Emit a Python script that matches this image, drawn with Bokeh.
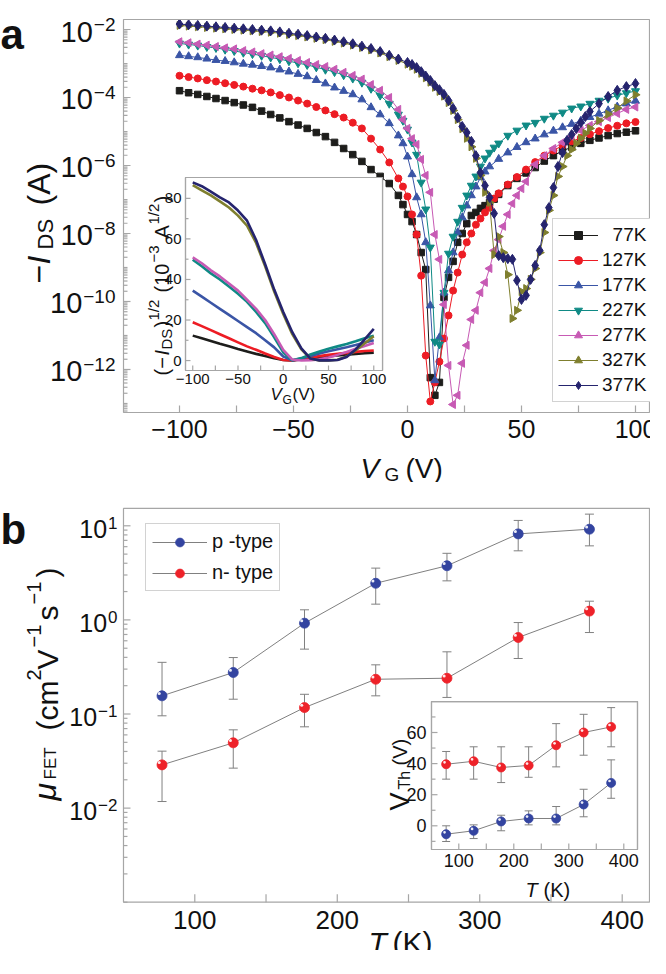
import numpy as np
from bokeh.plotting import figure
from bokeh.models import Range1d, LogScale, Label, Legend, LegendItem, GridBox
from bokeh.core.properties import value
from bokeh.embed import file_html
from bokeh.resources import INLINE

# ---------------- panel (a): transfer curves, log10(-I_DS / A) ----------------
vg_77 = [-100, -96, -92, -88, -84, -80, -76, -72, -68, -64, -60, -56, -52, -48, -44, -40, -36, -32, -28, -24, -20, -16, -12, -8, -4,
         -2, 0, 2, 4, 6, 8, 10, 12, 14, 16, 18, 20, 22, 24, 26, 28, 30, 32, 34, 36, 38,
         40, 44, 48, 52, 56, 60, 64, 68, 72, 76, 80, 84, 88, 92, 96, 100]
lg_77 = [-3.80, -3.86, -3.91, -3.97, -4.03, -4.09, -4.15, -4.22, -4.29, -4.40, -4.50, -4.60, -4.71, -4.81, -4.91, -5.03, -5.15, -5.32, -5.50, -5.68, -5.88, -6.12, -6.32, -6.53, -6.88,
         -7.15, -7.44, -7.65, -8.03, -8.56, -9.06, -12.24, -12.76, -12.38, -9.88, -9.29, -8.82, -8.26, -8.00, -7.71, -7.47, -7.38, -7.26, -7.18, -7.09, -6.99,
         -6.85, -6.59, -6.38, -6.22, -6.06, -5.87, -5.71, -5.57, -5.46, -5.35, -5.26, -5.19, -5.12, -5.06, -5.02, -4.98]

vg_127 = [-100, -96, -92, -88, -84, -80, -76, -72, -68, -64, -60, -56, -52, -48, -44, -40, -36, -32, -28, -24, -20, -16, -12, -8, -4,
          -2, 0, 2, 4, 6, 8, 10, 12, 14, 16, 18, 20, 22, 24, 26, 28, 30, 32, 34, 36, 38,
          40, 44, 48, 52, 56, 60, 64, 68, 72, 76, 80, 84, 88, 92, 96, 100]
lg_127 = [-3.36, -3.40, -3.44, -3.49, -3.53, -3.58, -3.63, -3.68, -3.74, -3.79, -3.85, -3.93, -4.00, -4.09, -4.18, -4.28, -4.38, -4.49, -4.59, -4.74, -4.91, -5.21, -5.53, -5.91, -6.38,
          -6.62, -6.91, -7.44, -8.03, -9.24, -11.59, -12.94, -12.38, -11.77, -11.09, -10.41, -9.68, -9.15, -8.62, -8.26, -8.00, -7.74, -7.56, -7.38, -7.24, -6.97,
          -6.82, -6.56, -6.34, -6.12, -5.90, -5.71, -5.56, -5.41, -5.29, -5.19, -5.08, -4.99, -4.90, -4.83, -4.76, -4.72]

vg_177 = [-100, -96, -92, -88, -84, -80, -76, -72, -68, -64, -60, -56, -52, -48, -44, -40, -36, -32, -28, -24, -20, -16, -12, -8, -4,
          -2, 0, 2, 4, 6, 8, 10, 12, 14, 16, 18, 20, 22, 24, 26, 28, 30, 32, 34,
          36, 40, 44, 48, 52, 56, 60, 64, 68, 72, 76, 80, 84, 88, 92, 96, 100]
lg_177 = [-2.76, -2.79, -2.82, -2.86, -2.90, -2.93, -2.97, -3.01, -3.04, -3.08, -3.12, -3.18, -3.24, -3.31, -3.38, -3.49, -3.59, -3.71, -3.81, -3.91, -4.06, -4.29, -4.50, -4.76, -5.12,
          -5.35, -5.74, -6.26, -6.94, -7.44, -8.26, -10.12, -12.32, -11.06, -9.74, -9.09, -8.56, -7.97, -7.53, -7.18, -6.88, -6.62, -6.35, -6.18,
          -6.03, -5.81, -5.62, -5.46, -5.32, -5.21, -5.09, -4.98, -4.88, -4.78, -4.69, -4.58, -4.48, -4.38, -4.27, -4.18, -4.10]

vg_227 = [-100, -96, -92, -88, -84, -80, -76, -72, -68, -64, -60, -56, -52, -48, -44, -40, -36, -32, -28, -24, -20, -16, -12, -8, -4,
          -2, 0, 2, 4, 6, 8, 10, 12, 14, 16, 18, 20, 22, 24, 26, 28, 30, 32, 34, 36, 38, 40,
          44, 48, 52, 56, 60, 64, 68, 72, 76, 80, 84, 88, 92, 96, 100]
lg_227 = [-2.41, -2.44, -2.47, -2.51, -2.54, -2.59, -2.63, -2.68, -2.72, -2.77, -2.82, -2.87, -2.93, -2.99, -3.04, -3.11, -3.18, -3.25, -3.34, -3.44, -3.56, -3.74, -3.94, -4.18, -4.50,
          -4.68, -4.94, -5.32, -5.68, -6.50, -7.29, -8.41, -11.18, -11.26, -9.74, -8.59, -8.09, -7.65, -7.24, -6.88, -6.59, -6.32, -6.03, -5.79, -5.62, -5.47, -5.35,
          -5.12, -4.97, -4.82, -4.74, -4.62, -4.53, -4.44, -4.32, -4.26, -4.18, -4.09, -4.03, -3.94, -3.87, -3.81]

vg_277 = [-100, -96, -92, -88, -84, -80, -76, -72, -68, -64, -60, -56, -52, -48, -44, -40, -36, -32, -28, -24, -20, -16, -12, -8, -4,
          -2, 0, 2, 4, 6, 8, 10, 12, 14, 16, 18, 20, 22, 24, 26, 28, 30, 32, 34, 36, 38, 40, 42, 44, 46, 48, 50, 52,
          56, 60, 64, 68, 72, 76, 80, 84, 88, 92, 96, 100]
lg_277 = [-2.36, -2.39, -2.43, -2.46, -2.50, -2.54, -2.57, -2.62, -2.66, -2.71, -2.75, -2.80, -2.85, -2.91, -2.97, -3.03, -3.09, -3.17, -3.26, -3.35, -3.46, -3.62, -3.79, -4.00, -4.35,
          -4.65, -4.91, -5.21, -5.38, -5.82, -6.29, -6.79, -8.03, -8.76, -10.09, -11.88, -13.03, -12.76, -11.82, -11.29, -10.53, -10.26, -9.74, -9.44, -9.03, -8.50, -8.18, -7.79, -7.44, -7.12, -6.88, -6.68, -6.47,
          -5.97, -5.71, -5.50, -5.32, -5.15, -4.97, -4.82, -4.71, -4.59, -4.47, -4.35, -4.28]

vg_327 = [-100, -96, -92, -88, -84, -80, -76, -72, -68, -64, -60, -56, -52, -48, -44, -40, -36, -32, -28, -24, -20, -16, -12, -8, -4,
          0, 2, 4, 6, 8, 10, 12, 14, 16, 18, 20, 22, 24, 26, 28, 30, 32, 34, 36, 38, 40, 42, 44, 46, 48, 50, 52, 54, 56, 58,
          60, 62, 64, 66, 68, 70, 72, 74, 76, 78, 80, 84, 88, 92, 96, 100]
lg_327 = [-1.88, -1.90, -1.92, -1.94, -1.96, -1.98, -2.00, -2.02, -2.04, -2.06, -2.08, -2.11, -2.15, -2.18, -2.22, -2.26, -2.30, -2.35, -2.40, -2.46, -2.53, -2.60, -2.69, -2.80, -2.91,
          -3.02, -3.08, -3.17, -3.29, -3.42, -3.55, -3.70, -3.82, -3.96, -4.15, -4.38, -4.65, -4.92, -5.20, -5.45, -5.79, -6.29, -6.79, -7.09, -8.62, -8.09, -8.56, -9.21, -10.50, -10.26, -9.71, -9.62, -9.35, -9.03, -8.56,
          -7.97, -7.32, -6.88, -6.32, -6.03, -5.71, -5.53, -5.35, -5.20, -5.05, -4.91, -4.68, -4.49, -4.31, -4.10, -3.92]

vg_377 = [-100, -96, -92, -88, -84, -80, -76, -72, -68, -64, -60, -56, -52, -48, -44, -40, -36, -32, -28, -24, -20, -16, -12, -8, -4,
          0, 2, 4, 6, 8, 10, 12, 14, 16, 18, 20, 22, 24, 26, 28, 30, 32, 34, 36, 38, 40, 42, 44, 46, 48, 50, 52, 54, 56, 58,
          60, 62, 64, 66, 68, 70, 72, 74, 76, 78, 80, 84, 88, 92, 96, 100]
lg_377 = [-1.84, -1.86, -1.88, -1.90, -1.92, -1.94, -1.96, -1.98, -2.00, -2.02, -2.04, -2.07, -2.11, -2.14, -2.18, -2.22, -2.26, -2.31, -2.36, -2.42, -2.49, -2.56, -2.65, -2.76, -2.87,
          -2.97, -3.03, -3.12, -3.24, -3.37, -3.50, -3.65, -3.77, -3.91, -4.09, -4.32, -4.59, -4.85, -5.03, -5.29, -5.71, -6.21, -6.59, -6.94, -7.41, -8.65, -8.71, -8.74, -8.76, -9.38, -9.94, -9.82, -9.35, -8.94, -8.50,
          -7.74, -7.24, -6.65, -6.03, -5.62, -5.26, -5.09, -4.91, -4.74, -4.56, -4.41, -4.18, -3.97, -3.79, -3.68, -3.59]

series_labels = ["77K", "127K", "177K", "227K", "277K", "327K", "377K"]

# ---------------- inset (a): (-I_DS)^1/2 in 1e-3 A^1/2 ----------------
vg_inset = [-100, -90, -80, -70, -60, -50, -40, -30, -20, -10, 0, 10, 20, 30, 40, 50, 60, 70, 80, 90, 100]
sq_77 = [12.3, 11.0, 9.7, 8.3, 7.0, 5.7, 4.5, 3.3, 2.2, 1.1, 0.3, 0.0, 0.6, 1.1, 1.6, 2.1, 2.5, 2.9, 3.2, 3.6, 3.9]
sq_127 = [18.9, 17.0, 15.0, 13.0, 11.0, 9.0, 7.0, 5.3, 3.5, 1.8, 0.3, 0.0, 0.8, 1.5, 2.2, 2.8, 3.3, 3.8, 4.3, 4.7, 5.0]
sq_177 = [34.5, 31.5, 28.5, 25.5, 22.5, 19.5, 16.5, 13.5, 10.0, 6.5, 2.0, 0.1, 1.0, 2.3, 3.5, 4.6, 5.6, 6.6, 7.7, 8.9, 10.0]
sq_227 = [49.8, 46.5, 43.0, 40.0, 36.5, 33.0, 29.0, 24.0, 18.5, 11.5, 4.0, 0.2, 1.2, 3.0, 4.5, 5.8, 7.0, 8.2, 9.5, 11.0, 12.3]
sq_277 = [50.9, 48.0, 44.5, 41.5, 38.0, 34.5, 30.0, 25.5, 20.0, 13.0, 5.3, 0.5, 0.0, 0.2, 0.6, 1.5, 2.8, 4.2, 5.8, 7.2, 8.7]
sq_327 = [86.5, 84.0, 81.5, 78.5, 75.5, 71.5, 66.5, 58.0, 46.5, 34.0, 23.0, 13.0, 5.5, 1.0, 0.1, 0.1, 0.4, 2.0, 5.0, 8.5, 12.0]
sq_377 = [87.9, 86.0, 83.3, 80.5, 78.0, 74.0, 69.0, 59.5, 47.5, 35.0, 24.0, 14.0, 6.0, 1.0, 0.1, 0.1, 0.3, 1.8, 5.5, 10.5, 15.6]

# ---------------- panel (b): mobility vs temperature ----------------
temp_k = [77, 127, 177, 227, 277, 327, 377]
mu_p = [0.156, 0.276, 0.923, 2.45, 3.76, 8.2, 9.2]
mu_p_hi = [0.354, 0.398, 1.28, 3.55, 5.1, 11.4, 13.3]
mu_p_lo = [0.0957, 0.1436, 0.489, 1.47, 2.6, 5.42, 6.12]
mu_n = [0.0288, 0.0494, 0.117, 0.234, 0.240, 0.65, 1.24]
mu_n_hi = [0.0403, 0.0679, 0.162, 0.333, 0.458, 0.937, 1.58]
mu_n_lo = [0.01175, 0.0266, 0.0731, 0.156, 0.150, 0.389, 0.734]
# inset (b): threshold voltage
vth_p = [-5.4, -3.2, 2.8, 4.7, 4.7, 13.7, 27.6]
vth_p_hi = [0.0, 0.6, 6.8, 9.6, 12.4, 23.5, 42.4]
vth_p_lo = [-10.1, -8.2, -3.2, 0.6, 0.6, 5.8, 17.7]
vth_n = [39.6, 41.5, 37.5, 38.8, 51.8, 60.0, 63.6]
vth_n_hi = [47.8, 50.8, 50.8, 50.8, 65.7, 71.7, 76.0]
vth_n_lo = [30.0, 30.0, 27.8, 31.2, 37.9, 45.4, 50.8]
type_labels = ["p -type", "n- type"]

# ---------------- tick positions ----------------
a_xticks = [-100, -50, 0, 50, 100]
a_xminor = [-75, -25, 25, 75]
a_yexps = [-12, -10, -8, -6, -4, -2]
ia_xticks = [-100, -50, 0, 50, 100]
ia_xminor = [-75, -25, 25, 75]
ia_yticks = [0, 20, 40, 60, 80]
ia_yminor = [10, 30, 50, 70]
b_xticks = [100, 200, 300, 400]
b_xminor = [150, 250, 350]
b_yexps = [-2, -1, 0, 1]
ib_xticks = [100, 200, 300, 400]
ib_xminor = [150, 250, 350]
ib_yticks = [0, 20, 40, 60]
ib_yminor = [-10, 10, 30, 50, 70]

# ---------------- styling ----------------
FONT = "Liberation Sans"
GRAY = "#a6a6a6"
LGRAY = "#808080"
TXT = "#111111"
colors = ["#1d1d1b", "#ed1c24", "#3a55a6", "#0f8a85", "#c75ab4", "#7f7f2e", "#25246e"]
marker_styles = [("square", 0.0, 6.5), ("circle", 0.0, 7), ("triangle", 0.0, 8),
                 ("inverted_triangle", 0.0, 8), ("triangle", np.pi / 2, 8),
                 ("triangle", -np.pi / 2, 8), ("diamond", 0.0, 10)]
BLUE_BALL = "#3344a0"
RED_BALL = "#ee2229"
MINUS = "\u2212"
R = np.pi / 2
W = 658
TOP = 8            # page y of the first canvas row
HA, HB = 482, 468  # canvas heights (page 8..490 and 490..958)


def make_panel(height, y0):
    p = figure(width=W, height=height, output_backend="svg", toolbar_location=None, title=None,
               x_range=Range1d(0, W), y_range=Range1d(y0 + height, y0),
               x_axis_location=None, y_axis_location=None,
               min_border=0, min_border_left=0, min_border_right=0, min_border_top=0, min_border_bottom=0)
    p.outline_line_color = None
    p.background_fill_color = "white"
    p.border_fill_color = "white"
    p.xgrid.visible = False
    p.ygrid.visible = False
    return p


def per_px(rng, npx, log=False):
    if log:
        return (np.log10(rng.end) - np.log10(rng.start)) / npx
    return (rng.end - rng.start) / npx


def shift(v, px, step, log):
    return v * 10 ** (px * step) if log else v + px * step


def box(p, xr, yr, fr, fill):
    x0, x1, y0, y1 = fr
    p.quad(left=[x0], right=[x1], bottom=[y0], top=[y1], fill_color=fill, line_color=GRAY,
           line_width=1.2, x_range_name=xr, y_range_name=yr)


def xticks(p, xr, yr, vals, ybase, length, ystep, ylog):
    n = len(vals)
    y1 = shift(ybase, length, ystep, ylog)
    p.segment(x0=vals, y0=[ybase] * n, x1=vals, y1=[y1] * n, line_color=GRAY, line_width=1.2,
              x_range_name=xr, y_range_name=yr)


def yticks(p, xr, yr, vals, xbase, length, xstep):
    n = len(vals)
    p.segment(x0=[xbase] * n, y0=vals, x1=[xbase + length * xstep] * n, y1=vals, line_color=GRAY,
              line_width=1.2, x_range_name=xr, y_range_name=yr)


def txt(p, xr, yr, xs, ys, texts, size, align, baseline, dx=0, dy=0):
    p.text(x=xs, y=ys, text=texts, x_offset=dx, y_offset=dy, text_align=align, text_baseline=baseline,
           text_font=value(FONT), text_font_size=value(f"{size}px"), text_color=TXT,
           x_range_name=xr, y_range_name=yr)


def num_label(v):
    return (MINUS + str(-v)) if v < 0 else str(v)


def ylog_labels(p, xr, yr, exps, xbase, bsize, esize, standoff, bdy, edy):
    n = len(exps)
    vals = [10.0 ** e for e in exps]
    etxt = [num_label(e) for e in exps]
    ew = [sum(0.584 if ch == MINUS else 0.556 for ch in t) * esize for t in etxt]
    txt(p, xr, yr, [xbase] * n, vals, etxt, esize, "right", "middle", dx=-standoff, dy=edy)
    txt(p, xr, yr, [xbase] * n, vals, ["10"] * n, bsize, "right", "middle",
        dx=[-standoff - w - 1 for w in ew], dy=bdy)


def add_text(p, text, x, y, size, style="normal", angle=0.0):
    p.add_layout(Label(x=x, y=y, text=text, text_font=FONT, text_font_size=f"{size}px",
                       text_font_style=style, text_color=TXT, angle=angle,
                       text_align="left", text_baseline="alphabetic"))


# ======================= panel (a) =======================
pa = make_panel(HA, TOP)
pa.extra_x_ranges = {"ax": Range1d(-182.02, 106.58), "ix": Range1d(-321.24, 405.76)}
pa.extra_y_ranges = {"ay": Range1d(10 ** -15.324, 10 ** -1.147), "iy": Range1d(-60.15, 177.61)}
pa.extra_y_scales = {"ay": LogScale()}
ax_s = per_px(pa.extra_x_ranges["ax"], W)
ay_s = per_px(pa.extra_y_ranges["ay"], HA, log=True)
ix_s = per_px(pa.extra_x_ranges["ix"], W)
iy_s = per_px(pa.extra_y_ranges["iy"], HA)
FA = (-124.56, 106.14, 10 ** -13.265, 10 ** -1.706)
FIA = (-108.0, 109.7, -4.9, 90.3)

curves_a = [(vg_77, lg_77), (vg_127, lg_127), (vg_177, lg_177), (vg_227, lg_227),
            (vg_277, lg_277), (vg_327, lg_327), (vg_377, lg_377)]
legend_items = []
for (vg, lg), lab, col, (mk, ang, sz) in zip(curves_a, series_labels, colors, marker_styles):
    ids = [10.0 ** v for v in lg]
    r1 = pa.line(vg, ids, line_color=col, line_width=1, x_range_name="ax", y_range_name="ay")
    r2 = pa.scatter(vg, ids, marker=mk, angle=ang, size=sz, fill_color=col, line_color=col,
                    x_range_name="ax", y_range_name="ay")
    pad = "\u2007" if len(lab) == 3 else ""
    legend_items.append(LegendItem(label=pad + lab, renderers=[r1, r2]))

box(pa, "ax", "ay", FA, None)
xticks(pa, "ax", "ay", a_xticks + a_xminor, FA[2], 7, ay_s, True)
txt(pa, "ax", "ay", a_xticks, [FA[2]] * len(a_xticks), [num_label(v) for v in a_xticks], 25,
    "center", "top", dy=8)
a_ymajor = [10.0 ** e for e in a_yexps]
a_yminor = [k * 10.0 ** e for e in range(-14, -1) for k in range(1, 10)
            if FA[2] <= k * 10.0 ** e <= FA[3] and not (k == 1 and e in a_yexps)]
yticks(pa, "ax", "ay", a_ymajor, FA[0], 7, ax_s)
yticks(pa, "ax", "ay", a_yminor, FA[0], 4, ax_s)
ylog_labels(pa, "ax", "ay", a_yexps, FA[0], 29, 19, 8, 2, -5)

leg_a = Legend(items=legend_items, location=(560, 490 - 410), label_text_font=FONT,
               label_text_font_size="19px", label_text_color=TXT, glyph_width=40, glyph_height=20,
               label_height=20, spacing=3, padding=5, label_standoff=4,
               border_line_color=GRAY, border_line_width=1.2,
               background_fill_color="white", background_fill_alpha=1.0, margin=0)
pa.add_layout(leg_a)

# ---- inset (a) ----
box(pa, "ix", "iy", FIA, "white")
for sq, col in zip([sq_77, sq_127, sq_177, sq_227, sq_277, sq_327, sq_377], colors):
    pa.line(vg_inset, sq, line_color=col, line_width=2.6, x_range_name="ix", y_range_name="iy")
box(pa, "ix", "iy", FIA, None)
xticks(pa, "ix", "iy", ia_xticks + ia_xminor, FIA[2], 5, iy_s, False)
yticks(pa, "ix", "iy", ia_yticks, FIA[0], 5, ix_s)
yticks(pa, "ix", "iy", ia_yminor, FIA[0], 3, ix_s)
txt(pa, "ix", "iy", ia_xticks, [FIA[2]] * len(ia_xticks), [num_label(v) for v in ia_xticks], 15,
    "center", "top", dy=4)
txt(pa, "ix", "iy", [FIA[0]] * len(ia_yticks), ia_yticks, [num_label(v) for v in ia_yticks], 15,
    "right", "middle", dx=-4)

# ---- titles (page coordinates) ----
add_text(pa, "a", 8, 42, 42, "bold")
add_text(pa, MINUS, 46, 291, 32, angle=R)
add_text(pa, "I", 46, 272, 32, "italic", angle=R)
add_text(pa, "DS", 53, 257, 22, angle=R)
add_text(pa, "(A)", 46, 213, 32, angle=R)
add_text(pa, "V", 368, 476, 28, "italic")
add_text(pa, "G", 392, 482, 19)
add_text(pa, "(V)", 413, 476, 28)
add_text(pa, "(" + MINUS, 169, 383, 20, angle=R)
add_text(pa, "I", 169, 363, 20, "italic", angle=R)
add_text(pa, "DS", 174, 357, 15, angle=R)
add_text(pa, ")", 169, 335, 20, angle=R)
add_text(pa, "1/2", 161, 328, 15, angle=R)
add_text(pa, "(10", 169, 300, 20, angle=R)
add_text(pa, MINUS + "3", 161, 270, 15, angle=R)
add_text(pa, "A", 169, 246, 20, angle=R)
add_text(pa, "1/2", 161, 232, 15, angle=R)
add_text(pa, ")", 169, 210, 20, angle=R)
add_text(pa, "V", 278, 402, 17, "italic")
add_text(pa, "G", 290, 407, 12)
add_text(pa, "(V)", 300, 402, 17)

# ======================= panel (b) =======================
pb = make_panel(HB, 490)
pb.extra_x_ranges = {"bx": Range1d(-41.99, 419.86), "jx": Range1d(-747.8, 448.55)}
pb.extra_y_ranges = {"by": Range1d(10 ** -3.513, 10 ** 1.460), "jy": Range1d(-80.19, 220.77)}
pb.extra_y_scales = {"by": LogScale()}
bx_s = per_px(pb.extra_x_ranges["bx"], W)
by_s = per_px(pb.extra_y_ranges["by"], HB, log=True)
jx_s = per_px(pb.extra_x_ranges["jx"], W)
jy_s = per_px(pb.extra_y_ranges["jy"], HB)
FB = (49.95, 419.16, 10 ** -3.0, 10 ** 1.184)
FIB = (50.36, 424.9, -15.24, 79.9)


def error_bars(p, xr, yr, xs, hi, lo, cap):
    p.segment(x0=xs, y0=lo, x1=xs, y1=hi, line_color=LGRAY, line_width=1, x_range_name=xr, y_range_name=yr)
    p.scatter(xs + xs, hi + lo, marker="dash", size=cap, line_color=LGRAY, line_width=1,
              x_range_name=xr, y_range_name=yr)


def balls(p, xr, yr, xs, ys, col, size, hx, hy, log):
    r = p.scatter(xs, ys, marker="circle", size=size, fill_color=col, line_color=col, line_width=0.8,
                  x_range_name=xr, y_range_name=yr)
    p.scatter([x + hx for x in xs], [shift(y, 1, hy, log) for y in ys], marker="circle", size=size * 0.3,
              fill_color="white", line_color=None, fill_alpha=0.9, x_range_name=xr, y_range_name=yr)
    return r


legend_b = []
for ys, hi, lo, col, lab in [(mu_p, mu_p_hi, mu_p_lo, BLUE_BALL, type_labels[0]),
                             (mu_n, mu_n_hi, mu_n_lo, RED_BALL, type_labels[1])]:
    error_bars(pb, "bx", "by", temp_k, hi, lo, 9)
    rl = pb.line(temp_k, ys, line_color=LGRAY, line_width=1, x_range_name="bx", y_range_name="by")
    rb = balls(pb, "bx", "by", temp_k, ys, col, 10, -2.8 * bx_s, 2.3 * by_s, True)
    legend_b.append(LegendItem(label=lab, renderers=[rl, rb]))

box(pb, "bx", "by", FB, None)
xticks(pb, "bx", "by", b_xticks + b_xminor, FB[2], 8, by_s, True)
txt(pb, "bx", "by", b_xticks, [FB[2]] * len(b_xticks), [num_label(v) for v in b_xticks], 26,
    "center", "top", dy=9)
b_ymajor = [10.0 ** e for e in b_yexps]
b_yminor = [k * 10.0 ** e for e in range(-3, 2) for k in range(1, 10)
            if FB[2] <= k * 10.0 ** e <= FB[3] and not (k == 1 and e in b_yexps)]
yticks(pb, "bx", "by", b_ymajor, FB[0], 7, bx_s)
yticks(pb, "bx", "by", b_yminor, FB[0], 4, bx_s)
ylog_labels(pb, "bx", "by", b_yexps, FB[0], 25, 17, 6, 3, -3)

leg_b = Legend(items=legend_b, location=(153, HB - (599 - 490)), label_text_font=FONT,
               label_text_font_size="20px", label_text_color=TXT, glyph_width=55, glyph_height=22,
               label_height=22, spacing=8, padding=6, label_standoff=5, border_line_color=GRAY,
               border_line_width=1.2, background_fill_color="white", background_fill_alpha=1.0, margin=0)
pb.add_layout(leg_b)

# ---- inset (b) ----
box(pb, "jx", "jy", FIB, "white")
for ys, hi, lo, col in [(vth_p, vth_p_hi, vth_p_lo, BLUE_BALL), (vth_n, vth_n_hi, vth_n_lo, RED_BALL)]:
    error_bars(pb, "jx", "jy", temp_k, hi, lo, 8)
    pb.line(temp_k, ys, line_color=LGRAY, line_width=1, x_range_name="jx", y_range_name="jy")
    balls(pb, "jx", "jy", temp_k, ys, col, 9, -1.6 * jx_s, 1.9 * jy_s, False)
box(pb, "jx", "jy", FIB, None)
xticks(pb, "jx", "jy", ib_xticks + ib_xminor, FIB[2], 6, jy_s, False)
yticks(pb, "jx", "jy", ib_yticks, FIB[0], 6, jx_s)
yticks(pb, "jx", "jy", ib_yminor, FIB[0], 4, jx_s)
txt(pb, "jx", "jy", ib_xticks, [FIB[2]] * len(ib_xticks), [num_label(v) for v in ib_xticks], 18,
    "center", "top", dy=4)
txt(pb, "jx", "jy", [FIB[0]] * len(ib_yticks), ib_yticks, [num_label(v) for v in ib_yticks], 18,
    "right", "middle", dx=-5)

# ---- titles (page coordinates) ----
add_text(pb, "b", 8, 537, 42, "bold")
add_text(pb, "\u03bc", 52, 808, 32, "italic", angle=R)
add_text(pb, "FET", 58, 787, 17, angle=R)
add_text(pb, "(cm", 55, 738, 30, angle=R)
add_text(pb, "2", 41, 688, 20, angle=R)
add_text(pb, "V", 55, 677, 30, angle=R)
add_text(pb, MINUS + "1", 41, 655, 20, angle=R)
add_text(pb, "s", 55, 628, 30, angle=R)
add_text(pb, MINUS + "1", 41, 612, 20, angle=R)
add_text(pb, ")", 55, 585, 30, angle=R)
add_text(pb, "T", 376, 950, 30, "italic")
add_text(pb, "(K)", 400, 950, 30)
add_text(pb, "V", 407, 818, 27, angle=R)
add_text(pb, "Th", 412, 797, 16, angle=R)
add_text(pb, "(V)", 407, 773, 20, angle=R)
add_text(pb, "T", 533, 897, 20, "italic")
add_text(pb, "(K)", 551, 897, 20)

grid = GridBox(children=[(pa, 0, 0), (pb, 1, 0)], margin=(0, 0, 0, -8))

open("out.html", "w").write(file_html(grid, INLINE))
